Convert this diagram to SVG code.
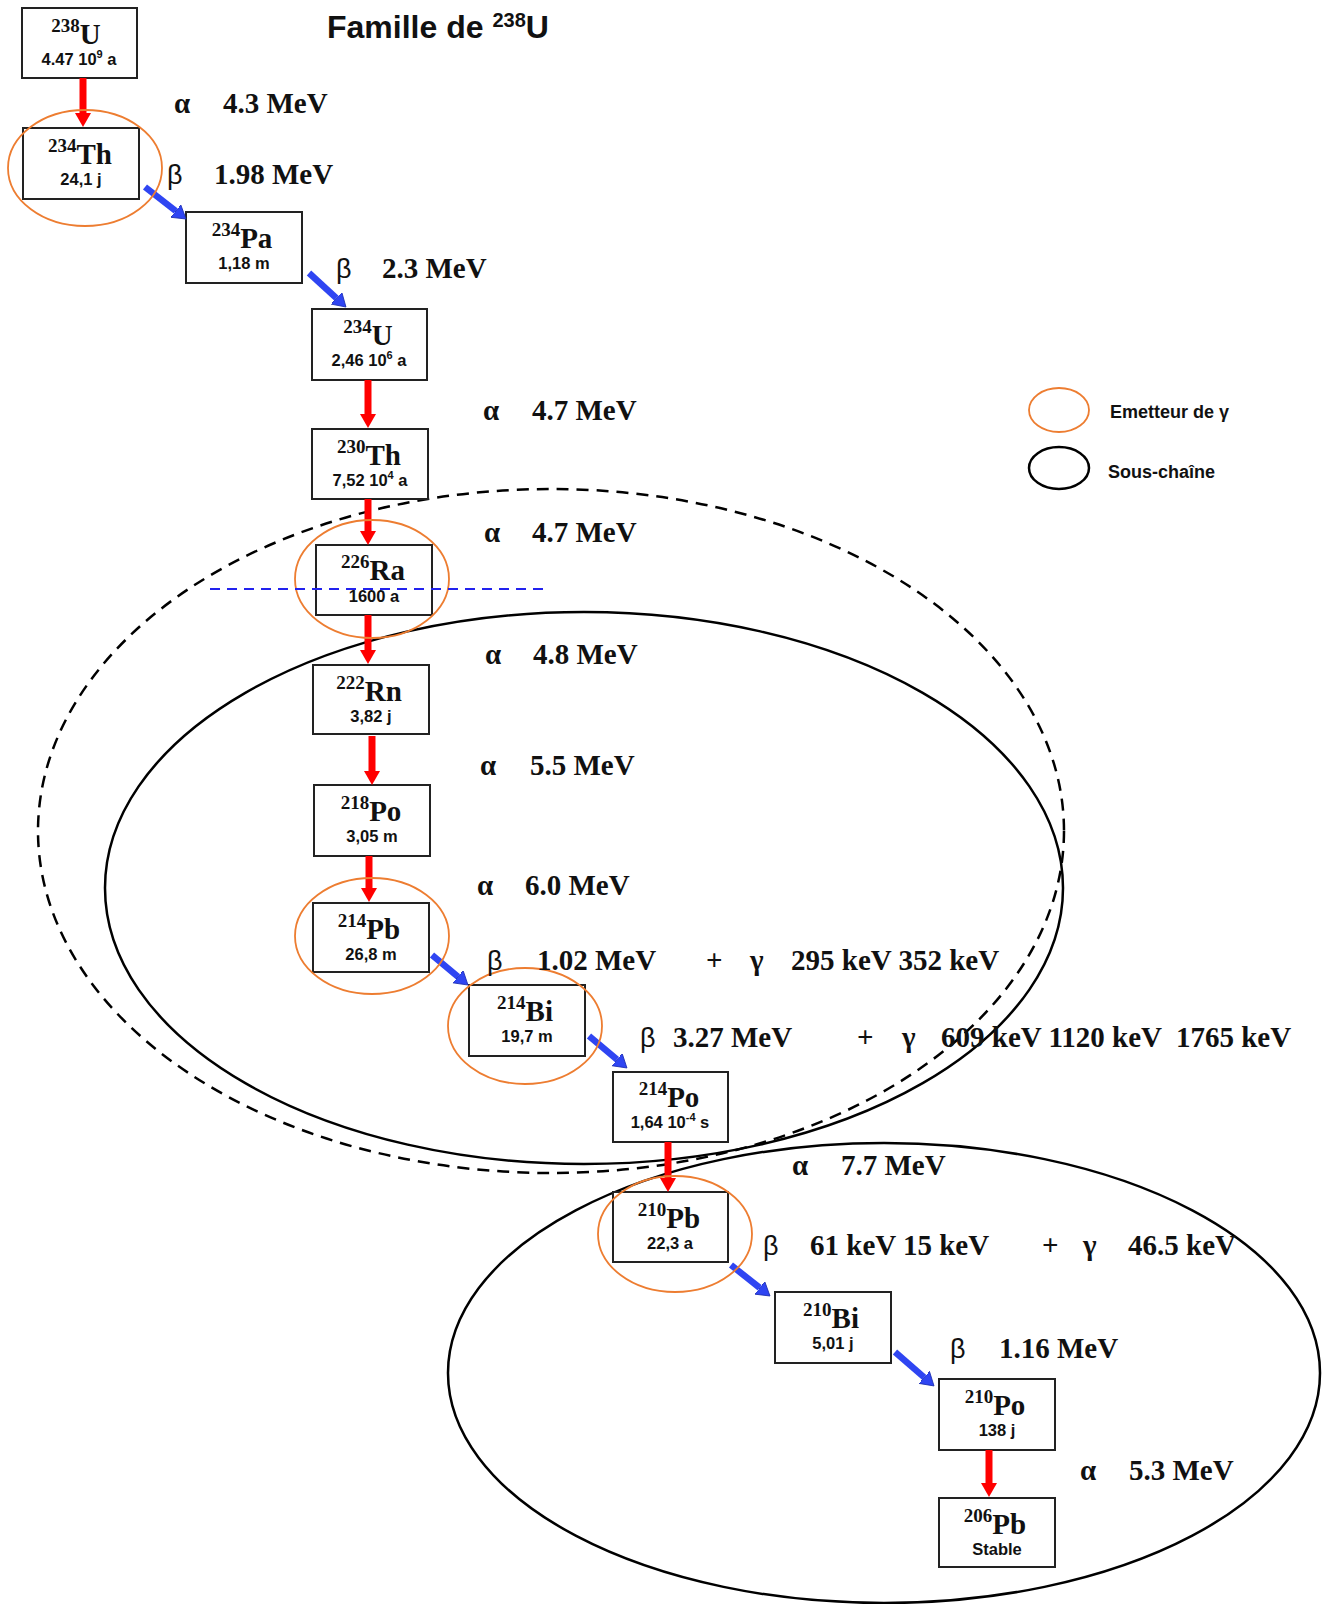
<svg xmlns="http://www.w3.org/2000/svg" width="1330" height="1604" viewBox="0 0 1330 1604">
<style>
.box{fill:#fff;stroke:#222;stroke-width:2}
.sym{font-family:"Liberation Serif","Times New Roman",serif;font-weight:bold;font-size:29px;text-anchor:middle;fill:#111}
.hl{font-family:"Liberation Sans",Arial,sans-serif;font-weight:bold;font-size:16.5px;text-anchor:middle;fill:#111}
.lbl{font-family:"Liberation Serif","Times New Roman",serif;font-weight:bold;font-size:29px;fill:#111}
.gk{font-family:"Liberation Serif","Times New Roman",serif;font-weight:bold;font-size:29px;fill:#111}
.bt{font-family:"Liberation Sans",Arial,sans-serif;font-size:27px;fill:#111}
.leg{font-family:"Liberation Sans",Arial,sans-serif;font-weight:bold;font-size:18px;fill:#111}
.title{font-family:"Liberation Sans",Arial,sans-serif;font-weight:bold;font-size:32px;fill:#111}
.gam{fill:none;stroke:#ED7D31;stroke-width:1.8}
.sub{fill:none;stroke:#000;stroke-width:2.5}
.subd{fill:none;stroke:#000;stroke-width:2.5;stroke-dasharray:12 8}
.ra{stroke:#ff0000;stroke-width:7;fill:none;marker-end:url(#hr)}
.be{stroke:#2f45f2;stroke-width:6.5;fill:none;marker-end:url(#hb)}
</style>
<defs>
<marker id="hr" markerUnits="userSpaceOnUse" markerWidth="16" markerHeight="18" refX="0" refY="8" orient="auto">
<path d="M0,0 L14,8 L0,16 z" fill="#ff0000"/>
</marker>
<marker id="hb" markerUnits="userSpaceOnUse" markerWidth="15" markerHeight="18" refX="0" refY="8" orient="auto">
<path d="M0,0 L13,8 L0,16 z" fill="#2f45f2" stroke="#1a2cb0" stroke-width="0.8"/>
</marker>
</defs>
<rect width="1330" height="1604" fill="#fff"/>

<text class="title" x="327" y="38">Famille de <tspan font-size="20" dy="-11">238</tspan><tspan dy="11">U</tspan></text>

<g id="subchains">
<ellipse class="subd" cx="551" cy="831" rx="513" ry="342"/>
<ellipse class="sub" cx="584" cy="888" rx="479" ry="276"/>
<ellipse class="sub" cx="884" cy="1373" rx="436" ry="230"/>
</g>

<g id="legend">
<ellipse class="gam" cx="1059" cy="410" rx="30" ry="22"/>
<text class="leg" x="1110" y="418">Emetteur de γ</text>
<ellipse class="sub" cx="1059" cy="468" rx="30" ry="21"/>
<text class="leg" x="1108" y="478">Sous-chaîne</text>
</g>

<g id="n238U"><rect class="box" x="22" y="8" width="115" height="70"/>
<text class="sym" x="76" y="44"><tspan font-size="19" dy="-12">238</tspan><tspan dy="12">U</tspan></text>
<text class="hl" x="79" y="65">4.47 10<tspan font-size="11" dy="-7">9</tspan><tspan dy="7"> a</tspan></text></g>

<g id="n234Th"><rect class="box" x="23" y="128" width="116" height="71"/>
<text class="sym" x="80" y="164"><tspan font-size="19" dy="-12">234</tspan><tspan dy="12">Th</tspan></text>
<text class="hl" x="81" y="185">24,1 j</text></g>

<g id="n234Pa"><rect class="box" x="186" y="212" width="116" height="71"/>
<text class="sym" x="242" y="248"><tspan font-size="19" dy="-12">234</tspan><tspan dy="12">Pa</tspan></text>
<text class="hl" x="244" y="269">1,18 m</text></g>

<g id="n234U"><rect class="box" x="312" y="309" width="115" height="71"/>
<text class="sym" x="368" y="345"><tspan font-size="19" dy="-12">234</tspan><tspan dy="12">U</tspan></text>
<text class="hl" x="369" y="366">2,46 10<tspan font-size="11" dy="-7">6</tspan><tspan dy="7"> a</tspan></text></g>

<g id="n230Th"><rect class="box" x="312" y="429" width="116" height="70"/>
<text class="sym" x="369" y="465"><tspan font-size="19" dy="-12">230</tspan><tspan dy="12">Th</tspan></text>
<text class="hl" x="370" y="486">7,52 10<tspan font-size="11" dy="-7">4</tspan><tspan dy="7"> a</tspan></text></g>

<g id="n226Ra"><rect class="box" x="316" y="545" width="116" height="70"/>
<text class="sym" x="373" y="580"><tspan font-size="19" dy="-12">226</tspan><tspan dy="12">Ra</tspan></text>
<text class="hl" x="374" y="602">1600 a</text></g>

<g id="n222Rn"><rect class="box" x="313" y="665" width="116" height="69"/>
<text class="sym" x="369" y="701"><tspan font-size="19" dy="-12">222</tspan><tspan dy="12">Rn</tspan></text>
<text class="hl" x="371" y="722">3,82 j</text></g>

<g id="n218Po"><rect class="box" x="314" y="785" width="116" height="71"/>
<text class="sym" x="371" y="821"><tspan font-size="19" dy="-12">218</tspan><tspan dy="12">Po</tspan></text>
<text class="hl" x="372" y="842">3,05 m</text></g>

<g id="n214Pb"><rect class="box" x="313" y="903" width="116" height="69"/>
<text class="sym" x="369" y="939"><tspan font-size="19" dy="-12">214</tspan><tspan dy="12">Pb</tspan></text>
<text class="hl" x="371" y="960">26,8 m</text></g>

<g id="n214Bi"><rect class="box" x="469" y="985" width="116" height="71"/>
<text class="sym" x="525" y="1021"><tspan font-size="19" dy="-12">214</tspan><tspan dy="12">Bi</tspan></text>
<text class="hl" x="527" y="1042">19,7 m</text></g>

<g id="n214Po"><rect class="box" x="613" y="1072" width="115" height="70"/>
<text class="sym" x="669" y="1107"><tspan font-size="19" dy="-12">214</tspan><tspan dy="12">Po</tspan></text>
<text class="hl" x="670" y="1128">1,64 10<tspan font-size="11" dy="-7">-4</tspan><tspan dy="7"> s</tspan></text></g>

<g id="n210Pb"><rect class="box" x="613" y="1192" width="115" height="70"/>
<text class="sym" x="669" y="1228"><tspan font-size="19" dy="-12">210</tspan><tspan dy="12">Pb</tspan></text>
<text class="hl" x="670" y="1249">22,3 a</text></g>

<g id="n210Bi"><rect class="box" x="775" y="1292" width="116" height="71"/>
<text class="sym" x="831" y="1328"><tspan font-size="19" dy="-12">210</tspan><tspan dy="12">Bi</tspan></text>
<text class="hl" x="833" y="1349">5,01 j</text></g>

<g id="n210Po"><rect class="box" x="939" y="1379" width="116" height="71"/>
<text class="sym" x="995" y="1415"><tspan font-size="19" dy="-12">210</tspan><tspan dy="12">Po</tspan></text>
<text class="hl" x="997" y="1436">138 j</text></g>

<g id="n206Pb"><rect class="box" x="939" y="1498" width="116" height="69"/>
<text class="sym" x="995" y="1534"><tspan font-size="19" dy="-12">206</tspan><tspan dy="12">Pb</tspan></text>
<text class="hl" x="997" y="1555">Stable</text></g>

<g id="connectors">
<line class="ra" x1="83" y1="78" x2="83" y2="113"/>
<line class="ra" x1="368" y1="380" x2="368" y2="414"/>
<line class="ra" x1="368" y1="499" x2="368" y2="531"/>
<line class="ra" x1="368" y1="615" x2="368" y2="650"/>
<line class="ra" x1="372" y1="736" x2="372" y2="771"/>
<line class="ra" x1="369" y1="856" x2="369" y2="888"/>
<line class="ra" x1="668" y1="1142" x2="668" y2="1178"/>
<line class="ra" x1="989" y1="1450" x2="989" y2="1483"/>
<line class="be" x1="145" y1="187" x2="175.8" y2="211"/>
<line class="be" x1="309" y1="273" x2="336.4" y2="298.2"/>
<line class="be" x1="432" y1="955" x2="458" y2="976.7"/>
<line class="be" x1="589" y1="1036" x2="617" y2="1059.6"/>
<line class="be" x1="731" y1="1265" x2="759.8" y2="1287.9"/>
<line class="be" x1="895" y1="1352" x2="924.2" y2="1377.4"/>
</g>

<g id="gamma-emitters">
<ellipse class="gam" cx="85" cy="168" rx="77" ry="58"/>
<ellipse class="gam" cx="372" cy="579" rx="77" ry="59"/>
<ellipse class="gam" cx="372" cy="936" rx="77" ry="58"/>
<ellipse class="gam" cx="525" cy="1026" rx="77" ry="58"/>
<ellipse class="gam" cx="675" cy="1234" rx="77" ry="58"/>
</g>

<line x1="210" y1="589" x2="547" y2="589" stroke="#2222ee" stroke-width="2" stroke-dasharray="10 7"/>

<g id="labels">
<text class="gk" x="174" y="113">α</text><text class="lbl" x="223" y="113">4.3 MeV</text>
<text class="bt" x="167" y="184">β</text><text class="lbl" x="214" y="184">1.98 MeV</text>
<text class="bt" x="336" y="278">β</text><text class="lbl" x="382" y="278">2.3 MeV</text>
<text class="gk" x="483" y="420">α</text><text class="lbl" x="532" y="420">4.7 MeV</text>
<text class="gk" x="484" y="542">α</text><text class="lbl" x="532" y="542">4.7 MeV</text>
<text class="gk" x="485" y="664">α</text><text class="lbl" x="533" y="664">4.8 MeV</text>
<text class="gk" x="480" y="775">α</text><text class="lbl" x="530" y="775">5.5 MeV</text>
<text class="gk" x="477" y="895">α</text><text class="lbl" x="525" y="895">6.0 MeV</text>
<text class="bt" x="487" y="970">β</text><text class="lbl" x="537" y="970">1.02 MeV</text><text class="lbl" x="706" y="970">+</text><text class="gk" x="750" y="970">γ</text><text class="lbl" x="791" y="970">295 keV 352 keV</text>
<text class="bt" x="640" y="1047">β</text><text class="lbl" x="673" y="1047">3.27 MeV</text><text class="lbl" x="857" y="1047">+</text><text class="gk" x="902" y="1047">γ</text><text class="lbl" x="941" y="1047" xml:space="preserve">609 keV 1120 keV  1765 keV</text>
<text class="gk" x="792" y="1175">α</text><text class="lbl" x="841" y="1175">7.7 MeV</text>
<text class="bt" x="763" y="1255">β</text><text class="lbl" x="810" y="1255">61 keV 15 keV</text><text class="lbl" x="1042" y="1255">+</text><text class="gk" x="1083" y="1255">γ</text><text class="lbl" x="1128" y="1255">46.5 keV</text>
<text class="bt" x="950" y="1358">β</text><text class="lbl" x="999" y="1358">1.16 MeV</text>
<text class="gk" x="1080" y="1480">α</text><text class="lbl" x="1129" y="1480">5.3 MeV</text>
</g>
</svg>
